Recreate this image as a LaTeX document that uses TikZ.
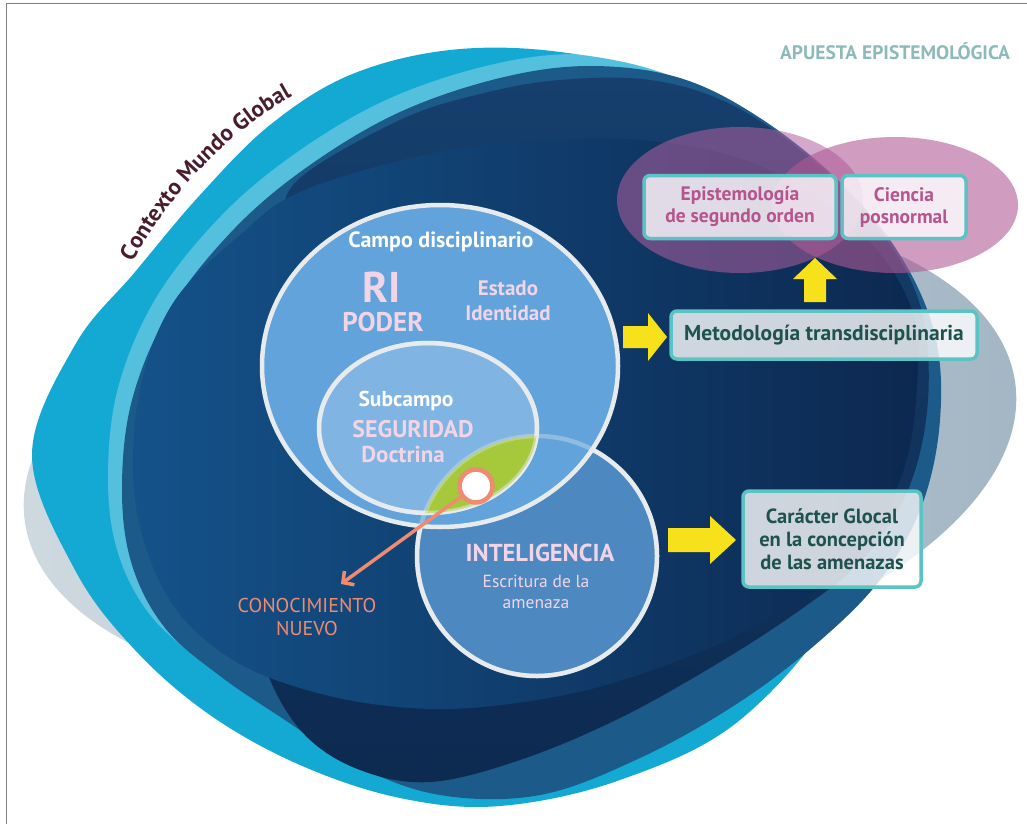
\documentclass[tikz,border=0pt]{standalone}
\usepackage{fontspec}
\setmainfont{PT Sans}
\usetikzlibrary{decorations.text,arrows.meta}
\definecolor{mistL}{HTML}{CFD9E0}
\definecolor{mistR}{HTML}{A3B6C4}
\definecolor{skycyan}{HTML}{13A9D2}
\definecolor{deepblue}{HTML}{1C5A8A}
\definecolor{darkT}{HTML}{163F6D}
\definecolor{darkB}{HTML}{0D2A50}
\definecolor{navyL}{HTML}{145289}
\definecolor{navyD}{HTML}{0C2850}
\definecolor{plum}{HTML}{B0609F}
\definecolor{orchid}{HTML}{B05A96}
\definecolor{campoblue}{HTML}{62A3DB}
\definecolor{subblue}{HTML}{80B4E2}
\definecolor{intelblue}{HTML}{4D88C0}
\definecolor{lensgreen}{HTML}{A5C93B}
\definecolor{ringwhite}{HTML}{E8EBEE}
\definecolor{salmon}{HTML}{EE8B70}
\definecolor{boxline}{HTML}{5CC3C4}
\definecolor{boxtext}{HTML}{1E524F}
\definecolor{pinktext}{HTML}{B5548F}
\definecolor{paletext}{HTML}{F2D4E7}
\definecolor{wine}{HTML}{4A1D2C}
\definecolor{apuesta}{HTML}{8BBAB8}
\definecolor{arrowyellow}{HTML}{F7E11B}
\tikzset{
  ring/.style={draw=ringwhite,line width=4.5pt},
  lbl/.style={inner sep=0pt,align=center},
  idea/.style={draw=boxline,line width=3.5pt,rounded corners=6pt,fill=white,
    fill opacity=.8,text opacity=1,align=center,inner sep=2pt},
  yarrow/.style={fill=arrowyellow},
  newarrow/.style={draw=salmon,line width=3.5pt,
    -{Straight Barb[length=8pt,width=17pt,line width=3.5pt]}},
  dot/.style={circle,fill=white,draw=salmon,line width=4.5pt,minimum size=33pt},
  blob/.style={smooth cycle,tension=.6}
}
\begin{document}
\begin{tikzpicture}[x=1pt,y=-1pt]
  \useasboundingbox (0,0) rectangle (1027,824);
  \draw[gray,line width=1pt] (6,824) -- (6,4) -- (1027,4);
  % context shapes
  \begin{scope}[shift={(520,452)},rotate=8]
    \shade[left color=mistL,right color=mistR] (0,0) ellipse [x radius=500pt,y radius=240pt];
  \end{scope}
  \fill[skycyan] plot[blob] coordinates {(32,455) (75,345) (135,272) (200,195) (270,125)
    (350,75) (450,50) (560,52) (680,80) (800,160) (870,300) (880,450) (840,600) (740,720)
    (620,780) (500,806) (400,798) (300,765) (210,715) (135,650) (75,570)};
  \fill[white,fill opacity=.28,shift={(-14,-12)}] plot[blob] coordinates {(122,490)
    (132,400) (170,310) (235,228) (310,165) (400,112) (500,78) (590,66) (680,78) (760,118)
    (840,182) (900,255) (935,335) (940,420) (922,505) (880,580) (815,645) (735,705)
    (640,758) (540,795) (440,795) (355,765) (285,720) (220,676) (165,628) (132,565)};
  \fill[deepblue] plot[blob] coordinates {(122,490) (132,400) (170,310) (235,228)
    (310,165) (400,112) (500,78) (590,66) (680,78) (760,118) (840,182) (900,255) (935,335)
    (940,420) (922,505) (880,580) (815,645) (735,705) (640,758) (540,795) (440,795)
    (355,765) (285,720) (220,676) (165,628) (132,565)};
  \shade[top color=darkT,bottom color=darkB] plot[blob] coordinates {(300,178) (400,120)
    (480,94) (560,80) (650,80) (730,104) (810,158) (878,228) (920,305) (928,400) (908,490)
    (862,560) (800,610) (720,662) (620,718) (520,760) (430,782) (360,770) (305,735)
    (268,675) (245,590) (238,490) (245,380) (262,290) (280,225)};
  \shade[left color=navyL,right color=navyD] plot[blob] coordinates {(133,470) (142,380)
    (175,300) (240,235) (300,192) (420,156) (533,141) (650,141) (760,166) (858,230)
    (912,310) (916,400) (900,480) (856,558) (788,608) (700,652) (587,690) (470,708)
    (380,705) (300,688) (233,660) (178,612) (145,545)};
  \path[decorate,decoration={text along path,text align=center,
    text format delimiters={|}{|},
    text={|\fontsize{23}{23}\selectfont\bfseries\color{wine}|Contexto Mundo Global}}]
    (122,282) .. controls (158,208) and (224,128) .. (312,86);
  \node[lbl,text=apuesta,font=\fontsize{19.5}{19.5}\selectfont\bfseries] (apuesta) at (895,51) {APUESTA EPISTEMOLÓGICA};
  % epistemic ellipses
  \fill[plum,fill opacity=.55] (740,200) ellipse [x radius=123pt,y radius=73pt];
  \fill[orchid,fill opacity=.6] (895,205) ellipse [x radius=123pt,y radius=68pt];
  % fields
  \filldraw[ring,fill=intelblue] (537,556) circle [radius=120pt];
  \filldraw[ring,fill=campoblue] (440,366) ellipse [x radius=178pt,y radius=161pt];
  \filldraw[ring,fill=subblue] (428,428) ellipse [x radius=109pt,y radius=85pt];
  \begin{scope}
    \clip (537,556) circle [radius=120pt];
    \fill[lensgreen] (428,428) ellipse [x radius=109pt,y radius=85pt];
  \end{scope}
  \draw[ring,draw opacity=.5] (428,428) ellipse [x radius=109pt,y radius=85pt];
  \draw[ring,draw opacity=.35] (537,556) circle [radius=120pt];
  % texts in fields
  \node[lbl,white,font=\fontsize{22}{22}\selectfont\bfseries] (campo) at (441,242) {Campo disciplinario};
  \node[lbl,paletext,font=\fontsize{43}{43}\selectfont\bfseries] (ri) at (382,287) {RI};
  \node[lbl,paletext,font=\fontsize{27}{27}\selectfont\bfseries] (poder) at (383,322) {PODER};
  \node[lbl,paletext,font=\fontsize{21}{25}\selectfont\bfseries] (estado) at (508,301) {Estado\\Identidad};
  \node[lbl,white,font=\fontsize{21.5}{21.5}\selectfont\bfseries] (subcampo) at (406,401) {Subcampo};
  \node[lbl,paletext,font=\fontsize{24}{24}\selectfont\bfseries] (seguridad) at (413,429) {SEGURIDAD};
  \node[lbl,paletext,font=\fontsize{23}{23}\selectfont\bfseries] (doctrina) at (403,454) {Doctrina};
  \node[lbl,paletext,font=\fontsize{24.5}{24.5}\selectfont\bfseries] (intel) at (540,553) {INTELIGENCIA};
  \node[lbl,paletext,font=\fontsize{17.5}{21}\selectfont] (escritura) at (536,592) {Escritura de la\\amenaza};
  % new knowledge
  \node[dot] (nuevo) at (476,486) {};
  \coordinate (tipnuevo) at (341,584);
  \draw[newarrow] (nuevo) -- (tipnuevo);
  \node[lbl,salmon,font=\fontsize{20}{23}\selectfont] (conoc) at (307,617) {CONOCIMIENTO\\NUEVO};
  % boxes
  \node[idea,minimum width=192pt,minimum height=63pt,text=pinktext,font=\fontsize{19.5}{22}\selectfont\bfseries] (epi) at (740,207) {Epistemología\\de segundo orden};
  \node[idea,minimum width=124pt,minimum height=63pt,text=pinktext,font=\fontsize{19.5}{22}\selectfont\bfseries] (cien) at (904,207) {Ciencia\\posnormal};
  \node[idea,minimum width=306pt,minimum height=48pt,text=boxtext,font=\fontsize{21.5}{22}\selectfont\bfseries] (meto) at (824,335) {Metodología transdisciplinaria};
  \node[idea,minimum width=178pt,minimum height=96pt,text=boxtext,font=\fontsize{20.5}{23}\selectfont\bfseries] (gloc) at (832,539) {Carácter Glocal\\en la concepción\\de las amenazas};
  % yellow arrows
  \fill[yarrow] (623,326) -- (648,326) -- (648,313) -- (667,337) -- (648,361) -- (648,348) -- (623,348) -- cycle;
  \fill[yarrow] (804,302) -- (804,279) -- (793,279) -- (815,258) -- (837,279) -- (826,279) -- (826,302) -- cycle;
  \fill[yarrow] (668,528) -- (710,528) -- (710,516) -- (736,540) -- (710,564) -- (710,552) -- (668,552) -- cycle;
\end{tikzpicture}
\end{document}
